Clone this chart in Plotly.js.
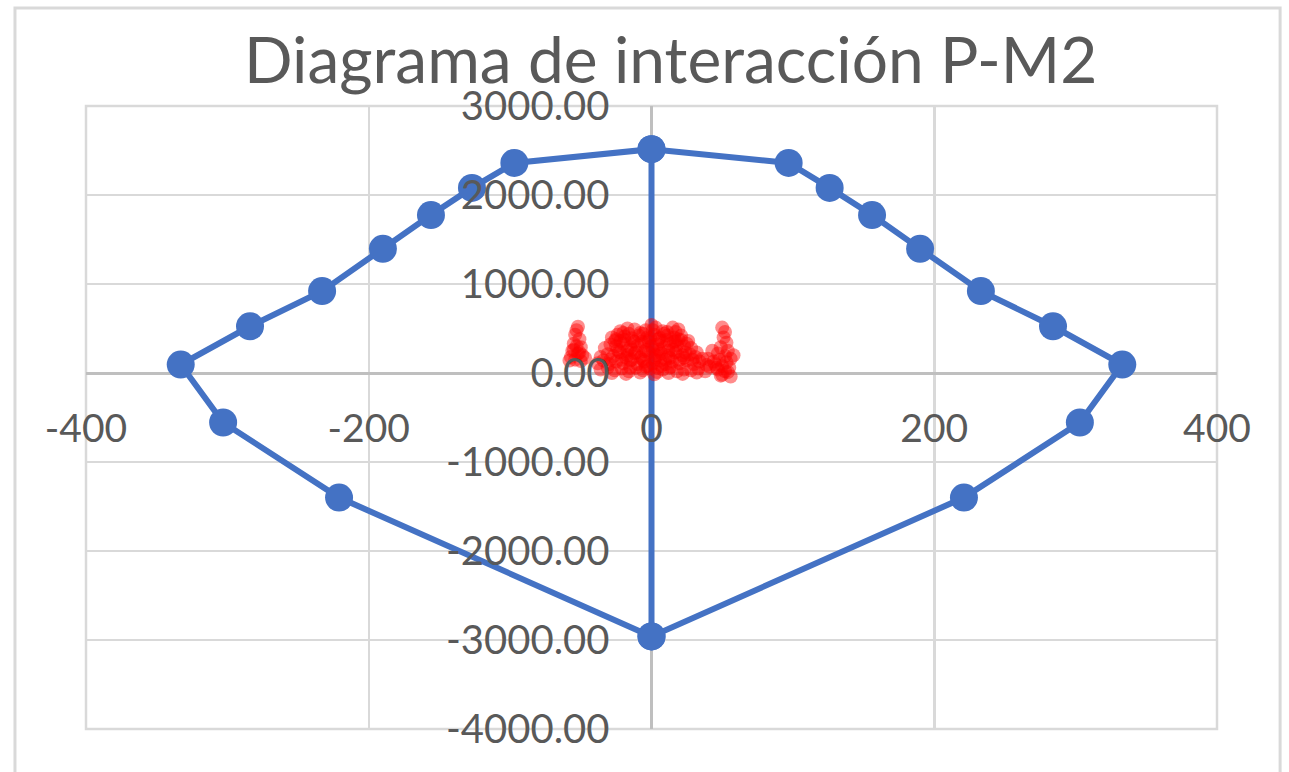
<!DOCTYPE html>
<html>
<head>
<meta charset="utf-8">
<script src="https://cdn.plot.ly/plotly-3.0.1.min.js"></script>
<style>html,body{margin:0;padding:0;background:#fff;}#chart{width:1289px;height:772px;}</style>
</head>
<body>
<div id="chart"></div>
<script>
// Interaction diagram (blue): M2 vs P
const diagM2 = [0, 97, 126, 156, 190, 233, 284, 333, 303, 221, 0, 0, -97, -127, -156, -190, -233, -284, -333, -303, -221, 0];
const diagP  = [2515, 2360, 2080, 1775, 1395, 920, 525, 95, -556, -1400, -2960, 2515, 2360, 2080, 1775, 1395, 920, 525, 95, -556, -1400, -2960];

// Demand points (red)
const demM2 = [
  -52,-53,-54,-51,-55,-50,-56,-52,-49,-57,-54,-50,-58,-47,-55,-53,-51,
  -22,-17,-12,-4,0,3,8,15,19,-20,-8,1,11,17,
  -28,-24,-19,-14,-9,-3,2,6,11,16,21,26,-26,-16,-6,9,19,
  -33,-29,-25,-20,-15,-10,-5,0,4,9,13,18,23,28,32,-22,-12,-2,7,16,25,
  -36,-31,-27,-22,-17,-12,-7,-2,3,7,12,17,22,27,31,36,-24,-14,-4,5,15,
  -38,-34,-30,-25,-20,-15,-10,-5,1,6,10,15,20,25,30,34,39,-18,-8,3,13,23,
  -36,-31,-26,-21,-16,-11,-6,-1,4,8,13,18,23,28,33,38,
  -28,-18,-8,2,12,22,32,-3,7,
  -25,-19,-13,-7,-1,5,11,17,21,-23,-17,-11,-5,1,6,12,18,24,-29,-21,-14,-6,2,10,20,29,-15,-4,4,14,
  50,52,51,53,49,54,47,52,56,48,53,45,50,55,47,52,50,56,44,58,46,41,43,40,54,49
];
const demP = [
  520,480,430,380,330,290,250,220,200,180,150,135,140,170,260,300,230,
  470,500,490,480,540,510,470,510,490,450,450,480,460,460,
  400,430,410,390,420,400,430,395,420,400,420,360,360,440,440,440,380,
  280,320,300,330,290,310,340,300,320,290,330,310,300,280,230,360,350,360,360,350,330,
  180,210,190,230,200,220,190,230,200,220,190,230,200,210,180,160,260,260,260,260,260,
  110,140,100,130,110,140,100,130,110,140,100,130,110,140,100,130,90,170,170,170,170,170,
  40,60,30,50,20,60,30,50,10,40,60,20,40,30,50,20,
  0,-10,5,-15,0,-10,5,80,80,
  380,370,360,350,390,380,370,360,370,240,250,230,245,260,240,250,240,230,150,150,150,150,150,150,150,150,60,70,60,70,
  510,460,400,340,290,250,220,190,160,150,120,100,80,60,40,20,-20,-40,130,200,60,70,250,160,10,-30
];

const xTickVals = [-400, -200, 0, 200, 400];
const xTickText = ['-400', '-200', '0', '200', '400'];
const yTickVals = [-4000, -3000, -2000, -1000, 0, 1000, 2000, 3000];
const yTickText = ['-4000.00', '-3000.00', '-2000.00', '-1000.00', '0.00', '1000.00', '2000.00', '3000.00'];

const FONT = 'Lato, "Noto Sans", sans-serif';
const TXT = '#595959';

const traces = [
  {
    x: diagM2, y: diagP, type: 'scatter', mode: 'lines+markers',
    line: {color: '#4472C4', width: 6},
    marker: {color: '#4472C4', size: 28},
    hoverinfo: 'skip', showlegend: false
  },
  {
    x: demM2, y: demP, type: 'scatter', mode: 'markers',
    marker: {color: 'rgb(255,0,0)', size: 14, opacity: 0.45, line: {width: 0}},
    hoverinfo: 'skip', showlegend: false
  }
];

const layout = {
  width: 1289, height: 772,
  paper_bgcolor: '#ffffff', plot_bgcolor: '#ffffff',
  margin: {l: 86, r: 72, t: 106, b: 43, pad: 0},
  font: {family: FONT, color: TXT},
  title: {
    text: 'Diagrama de interacción P-M2',
    font: {family: FONT, size: 64, color: TXT},
    xref: 'paper', x: 0.517, xanchor: 'center',
    yref: 'container', y: 0.921, yanchor: 'middle'
  },
  xaxis: {
    range: [-400, 400], tickvals: xTickVals, ticktext: xTickText,
    showgrid: true, gridcolor: '#d9d9d9', gridwidth: 2.5,
    zeroline: true, zerolinecolor: '#bfbfbf', zerolinewidth: 3,
    showline: false, ticks: '',
    anchor: 'free', position: 4/7,
    tickfont: {family: FONT, size: 39, color: TXT},
    ticklabelstandoff: 29,
    fixedrange: true
  },
  yaxis: {
    range: [-4000, 3000], tickvals: yTickVals, ticktext: yTickText,
    showgrid: true, gridcolor: '#d9d9d9', gridwidth: 2.5,
    zeroline: true, zerolinecolor: '#bfbfbf', zerolinewidth: 3,
    showline: false, ticks: '',
    anchor: 'free', position: 0.5,
    tickfont: {family: FONT, size: 40, color: TXT},
    ticklabelstandoff: 42,
    fixedrange: true
  },
  shapes: [
    {type: 'rect', xref: 'paper', yref: 'paper', x0: 0, x1: 1, y0: 0, y1: 1,
     line: {color: '#d9d9d9', width: 2.5}, layer: 'below'},
    {type: 'rect', xref: 'paper', yref: 'paper', x0: -0.0628, x1: 1.0558, y0: -0.12, y1: 1.1573,
     line: {color: '#d9d9d9', width: 3}, layer: 'below'}
  ]
};

Plotly.newPlot('chart', traces, layout, {displayModeBar: false, staticPlot: true});
</script>
</body>
</html>
